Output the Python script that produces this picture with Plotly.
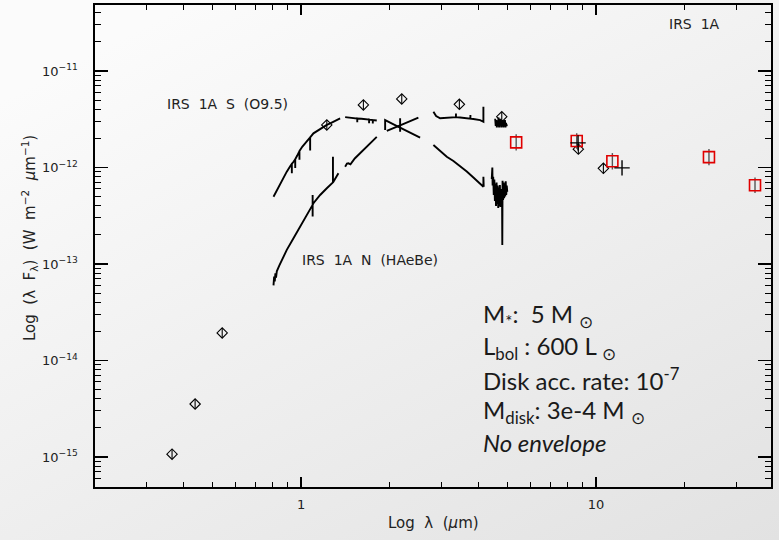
import numpy as np
import plotly.graph_objects as go

# ---------------- data ----------------
# photometry (open diamonds)
phot_wl = [0.365, 0.437, 0.540, 1.222, 1.626, 2.194, 3.44, 4.79, 8.71, 10.59]
phot_flux = [1.07e-15, 3.54e-15, 1.93e-14, 2.76e-12, 4.45e-12, 5.13e-12, 4.52e-12, 3.36e-12, 1.55e-12, 9.8e-13]
phot_err_dex = [0.05, 0.05, 0.05, 0.05, 0.05, 0.05, 0.05, 0.05, 0.05, 0.05]

# mid-IR photometry (red squares)
mir_wl = [5.36, 8.60, 11.36, 24.15, 34.6]
mir_flux = [1.82e-12, 1.88e-12, 1.16e-12, 1.28e-12, 6.54e-13]
mir_err_dex = [0.085, 0.08, 0.085, 0.085, 0.08]

# other points (plus signs)
plus_wl = [8.69, 12.25]
plus_flux = [1.80e-12, 9.9e-13]

# IRS 1A S (O9.5) spectrum segments
s_j_wl = [0.806, 0.827, 0.849, 0.871, 0.894, 0.918, 0.930, 0.930, 0.930, 0.942, 0.955, 0.955, 0.955,
          0.970, 0.987, 0.987, 0.987, 1.010, 1.045, 1.073, 1.073, 1.073, 1.101, 1.130, 1.160, 1.190,
          1.222, 1.255, 1.287, 1.320, 1.356]
s_j_fl = [4.98e-13, 5.8e-13, 6.59e-13, 7.8e-13, 9.05e-13, 1.03e-12, 1.09e-12, 8.7e-13, 1.09e-12, 1.148e-12,
          1.22e-12, 9.9e-13, 1.22e-12, 1.33e-12, 1.48e-12, 1.2e-12, 1.48e-12, 1.65e-12, 1.85e-12, 2.05e-12,
          1.5e-12, 2.05e-12, 2.26e-12, 2.38e-12, 2.49e-12, 2.62e-12, 2.76e-12, 2.87e-12, 2.98e-12, 3.1e-12,
          3.23e-12]
s_h_wl = [1.410, 1.450, 1.500, 1.550, 1.550, 1.550, 1.600, 1.650, 1.700, 1.700, 1.700, 1.750, 1.750, 1.750, 1.805]
s_h_fl = [3.33e-12, 3.30e-12, 3.24e-12, 3.22e-12, 2.95e-12, 3.22e-12, 3.20e-12, 3.17e-12, 3.14e-12, 2.88e-12,
          3.14e-12, 3.10e-12, 2.85e-12, 3.10e-12, 3.07e-12]
s_k_wl = [1.927, 1.927, 2.050, 2.170, 2.300, 2.420, 2.532]
s_k_fl = [2.45e-12, 3.10e-12, 2.82e-12, 2.58e-12, 2.36e-12, 2.18e-12, 2.04e-12]
s_l_wl = [2.809, 2.960, 3.118, 3.284, 3.459, 3.645, 3.838, 4.045, 4.150, 4.150, 4.160]
s_l_fl = [1.71e-12, 1.48e-12, 1.29e-12, 1.17e-12, 1.04e-12, 9.09e-13, 7.88e-13, 6.82e-13, 6.32e-13, 8.0e-13, 6.3e-13]
s_m_wl = [4.43, 4.45, 4.46, 4.48, 4.50, 4.52, 4.54, 4.56, 4.58, 4.60, 4.62, 4.64, 4.66, 4.68, 4.70, 4.72,
          4.74, 4.76, 4.78, 4.80, 4.81, 4.81, 4.82, 4.84, 4.86, 4.88, 4.90, 4.92, 4.94, 4.96, 4.98, 5.00]
s_m_fl = [7.6e-13, 1.0e-12, 6.5e-13, 8.0e-13, 5.2e-13, 7.5e-13, 4.5e-13, 6.8e-13, 4.0e-13, 7.0e-13, 4.2e-13,
          6.5e-13, 3.8e-13, 6.2e-13, 4.0e-13, 6.6e-13, 3.9e-13, 6.0e-13, 4.3e-13, 5.5e-13, 1.57e-13, 5.2e-13,
          7.3e-13, 4.6e-13, 7.0e-13, 4.8e-13, 6.8e-13, 5.0e-13, 7.2e-13, 5.2e-13, 6.5e-13, 5.6e-13]

# IRS 1A N (HAeBe) spectrum segments
n_j_wl = [0.806, 0.810, 0.814, 0.818, 0.822, 0.827, 0.843, 0.860, 0.894, 0.942, 0.992, 1.045,
          1.094, 1.094, 1.094, 1.094, 1.101, 1.160, 1.222, 1.282, 1.282, 1.282, 1.287, 1.338]
n_j_fl = [6.0e-14, 7.4e-14, 6.6e-14, 8.0e-14, 7.2e-14, 8.4e-14, 9.6e-14, 1.10e-13, 1.40e-13, 1.85e-13,
          2.43e-13, 3.22e-13, 4.10e-13, 5.2e-13, 3.1e-13, 4.1e-13, 4.26e-13, 5.19e-13, 6.09e-13, 7.0e-13,
          1.29e-12, 7.0e-13, 7.13e-13, 8.71e-13]
n_h_wl = [1.410, 1.430, 1.447, 1.470, 1.520, 1.585, 1.660, 1.730, 1.805]
n_h_fl = [1.02e-12, 1.10e-12, 1.106e-12, 1.08e-12, 1.24e-12, 1.40e-12, 1.62e-12, 1.84e-12, 2.08e-12]
n_k_wl = [1.952, 2.050, 2.166, 2.166, 2.166, 2.166, 2.300, 2.420, 2.498]
n_k_fl = [2.39e-12, 2.54e-12, 2.73e-12, 3.24e-12, 2.35e-12, 2.73e-12, 2.95e-12, 3.15e-12, 3.28e-12]
n_l_wl = [2.809, 2.840, 2.869, 2.960, 3.118, 3.284, 3.350, 3.350, 3.350, 3.459, 3.645, 3.750, 3.750, 3.750,
          3.838, 4.045, 4.150, 4.150, 4.150]
n_l_fl = [3.79e-12, 3.55e-12, 3.42e-12, 3.24e-12, 3.30e-12, 3.36e-12, 3.33e-12, 3.62e-12, 3.33e-12, 3.30e-12,
          3.24e-12, 3.21e-12, 3.5e-12, 3.21e-12, 3.18e-12, 3.10e-12, 2.98e-12, 4.26e-12, 3.0e-12]
n_m_wl = [4.55, 4.57, 4.59, 4.61, 4.63, 4.65, 4.67, 4.69, 4.71, 4.73, 4.75, 4.77, 4.79, 4.81, 4.83, 4.85,
          4.87, 4.89, 4.91, 4.93, 4.95, 4.97, 4.99]
n_m_fl = [3.2e-12, 2.7e-12, 3.1e-12, 2.6e-12, 3.0e-12, 2.7e-12, 3.3e-12, 2.6e-12, 3.1e-12, 2.8e-12, 3.2e-12,
          2.6e-12, 3.0e-12, 2.7e-12, 3.1e-12, 2.6e-12, 3.0e-12, 2.7e-12, 3.1e-12, 2.6e-12, 2.9e-12, 2.7e-12,
          2.8e-12]

x_major = [1, 10]
x_major_text = ["1", "10"]
y_major = [1e-15, 1e-14, 1e-13, 1e-12, 1e-11]
y_major_text = ["10<sup>\u221215</sup>", "10<sup>\u221214</sup>", "10<sup>\u221213</sup>",
                "10<sup>\u221212</sup>", "10<sup>\u221211</sup>"]

model_lines = ["M<sub>*</sub>:  5 M <sub>\u2299</sub>",
               "L<sub>bol</sub> : 600 L <sub>\u2299</sub>",
               "Disk acc. rate: 10<sup>-7</sup>",
               "M<sub>disk</sub>: 3e-4 M <sub>\u2299</sub>",
               "<i>No envelope</i>"]

# ---------------- figure ----------------
W, H = 779, 540
L_M, R_M, T_M, B_M = 95, 8, 5, 53
PW, PH = W - L_M - R_M, H - T_M - B_M


def px(xp, yp):
    return (xp - L_M) / PW, (H - B_M - yp) / PH


fig = go.Figure()

segments = [(s_j_wl, s_j_fl), (s_h_wl, s_h_fl), (s_k_wl, s_k_fl), (s_l_wl, s_l_fl), (s_m_wl, s_m_fl),
            (n_j_wl, n_j_fl), (n_h_wl, n_h_fl), (n_k_wl, n_k_fl), (n_l_wl, n_l_fl), (n_m_wl, n_m_fl)]
for wl, fl in segments:
    fig.add_trace(go.Scatter(x=wl, y=fl, mode="lines", line=dict(color="black", width=1.9),
                             hoverinfo="skip", showlegend=False))


def errs(vals, dex):
    up = [v * (10 ** d - 1) for v, d in zip(vals, dex)]
    dn = [v * (1 - 10 ** (-d)) for v, d in zip(vals, dex)]
    return up, dn


pu, pd_ = errs(phot_flux, phot_err_dex)
fig.add_trace(go.Scatter(x=phot_wl, y=phot_flux, mode="markers",
                         marker=dict(symbol="diamond-open", size=8, color="black", line=dict(width=1.1)),
                         error_y=dict(type="data", array=pu, arrayminus=pd_, width=0, thickness=1.1,
                                      color="black"),
                         showlegend=False))
mu, md = errs(mir_flux, mir_err_dex)
fig.add_trace(go.Scatter(x=mir_wl, y=mir_flux, mode="markers",
                         marker=dict(symbol="square-open", size=11, color="#e00000", line=dict(width=1.6)),
                         error_y=dict(type="data", array=mu, arrayminus=md, width=0, thickness=1.4,
                                      color="#555555"),
                         showlegend=False))
fig.add_trace(go.Scatter(x=plus_wl, y=plus_flux, mode="markers",
                         marker=dict(symbol="cross-thin-open", size=11, color="black", line=dict(width=1.4, color="black")),
                         showlegend=False))

x_minor = [k * 10 ** e for e in (-1, 0, 1) for k in range(2, 10) if 0.2 <= k * 10 ** e <= 39]
y_minor = [k * 10.0 ** e for e in range(-16, -10) for k in range(2, 10) if 4.9e-16 <= k * 10.0 ** e <= 4.9e-11]

tickfont = dict(family="DejaVu Sans", size=13, color="#222222")
fig.update_xaxes(type="log", range=[np.log10(0.2), np.log10(39.2)],
                 tickmode="array", tickvals=x_major, ticktext=x_major_text,
                 ticks="inside", ticklen=10, tickwidth=1.5, tickcolor="black",
                 minor=dict(tickmode="array", tickvals=x_minor, ticks="inside", ticklen=5, tickwidth=1,
                            tickcolor="black", showgrid=False),
                 showline=True, linecolor="black", linewidth=1.6, mirror="allticks",
                 showgrid=False, zeroline=False, tickfont=tickfont, ticklabelstandoff=5)
fig.update_yaxes(type="log", range=[-15.311, -10.316],
                 tickmode="array", tickvals=y_major, ticktext=y_major_text,
                 ticks="inside", ticklen=13, tickwidth=1.5, tickcolor="black",
                 minor=dict(tickmode="array", tickvals=y_minor, ticks="inside", ticklen=6, tickwidth=1,
                            tickcolor="black", showgrid=False),
                 showline=True, linecolor="black", linewidth=1.6, mirror="allticks",
                 showgrid=False, zeroline=False, tickfont=tickfont, ticklabelstandoff=13)

ann = []
lab_font = dict(family="DejaVu Sans", size=14, color="#222222")
x0, y0 = px(165, 104)
ann.append(dict(x=x0, y=y0, text="IRS  1A  S  (O9.5)", xanchor="left", yanchor="middle", font=lab_font))
x0, y0 = px(300, 260)
ann.append(dict(x=x0, y=y0, text="IRS  1A  N  (HAeBe)", xanchor="left", yanchor="middle", font=lab_font))
x0, y0 = px(667, 24)
ann.append(dict(x=x0, y=y0, text="IRS  1A", xanchor="left", yanchor="middle", font=lab_font))

x0, y0 = px(433, 523)
ann.append(dict(x=x0, y=y0, text="Log  \u03bb  (<i>\u03bc</i>m)", xanchor="center", yanchor="middle",
                font=dict(family="DejaVu Sans", size=15, color="#222222")))
x0, y0 = px(30, 238)
ann.append(dict(x=x0, y=y0, text="Log  (\u03bb  F<sub>\u03bb</sub>)  (W  m<sup>\u22122</sup>  <i>\u03bc</i>m<sup>\u22121</sup>)",
                textangle=-90, xanchor="center", yanchor="middle",
                font=dict(family="DejaVu Sans", size=15, color="#222222")))

model_font = dict(family="Lato", size=24, color="#1a1a1a")
for i, t in enumerate(model_lines):
    x0, y0 = px(481, 316 + 31.7 * i)
    ann.append(dict(x=x0, y=y0, text=t, xanchor="left", yanchor="middle", font=model_font))

for a in ann:
    a.update(xref="paper", yref="paper", showarrow=False)

bg_svg = ("data:image/svg+xml;utf8,<svg xmlns='http://www.w3.org/2000/svg' width='779' height='540'>"
          "<defs><linearGradient id='g' x1='0.25' y1='0' x2='1' y2='1'>"
          "<stop offset='0' stop-color='%23fbfbfb'/><stop offset='1' stop-color='%23e2e2e2'/>"
          "</linearGradient></defs><rect width='779' height='540' fill='url(%23g)'/></svg>")

fig.update_layout(
    width=W, height=H,
    margin=dict(l=L_M, r=R_M, t=T_M, b=B_M, autoexpand=False),
    paper_bgcolor="#eeeeee", plot_bgcolor="rgba(0,0,0,0)",
    showlegend=False, hovermode=False,
    annotations=ann,
    images=[dict(source=bg_svg, xref="paper", yref="paper",
                 x=-L_M / PW, y=1 + T_M / PH, sizex=W / PW, sizey=H / PH,
                 sizing="stretch", layer="below", xanchor="left", yanchor="top")],
)

fig.write_html("out.html", config={"displayModeBar": False, "staticPlot": True},
               post_script="document.body.style.margin='0px';document.body.style.padding='0px';"
                           "document.body.style.overflow='hidden';"
                           "document.documentElement.style.overflow='hidden';")
